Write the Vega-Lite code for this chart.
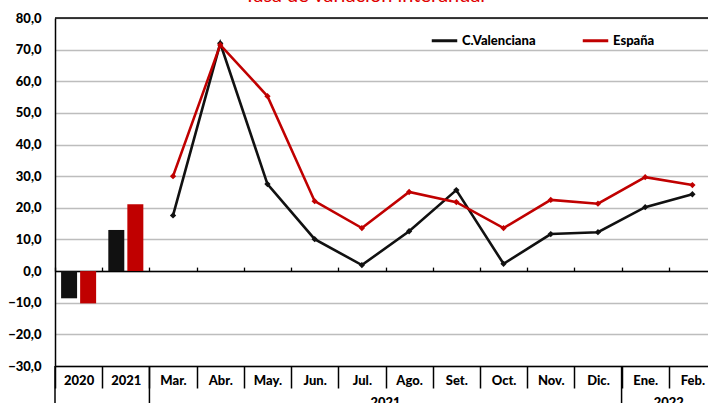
{
  "$schema": "https://vega.github.io/schema/vega-lite/v6.json",
  "width": 653,
  "height": 348,
  "autosize": {"type": "none"},
  "padding": {"left": 55, "top": 18, "right": 0, "bottom": 37},
  "background": "white",
  "view": {"stroke": null},
  "config": {
    "font": "Lato",
    "axisY": {
      "tickCount": 11,
      "labelExpr": "replace(format(datum.value, '.1f'), '.', ',')",
      "labelOverlap": false,
      "labelFont": "Lato", "labelFontWeight": 900, "labelFontSize": 13, "labelColor": "black",
      "labelPadding": 14, "ticks": false,
      "domainColor": "black", "domainWidth": 1.5,
      "grid": true, "gridColor": "#bdbdbd", "gridWidth": 1.3,
      "title": null
    }
  },
  "title": {
    "text": "Tasa de variación interanual",
    "color": "#e00000",
    "fontSize": 20,
    "fontWeight": "normal",
    "font": "Lato",
    "frame": "group",
    "anchor": "middle",
    "baseline": "alphabetic",
    "offset": 0,
    "dy": 10,
    "dx": -17
  },
  "datasets": {
    "series": [
      {"cat": "2020", "serie": "C.Valenciana", "valor": -8.6, "tipo": "anual"},
      {"cat": "2020", "serie": "España", "valor": -10.2, "tipo": "anual"},
      {"cat": "2021", "serie": "C.Valenciana", "valor": 13.0, "tipo": "anual"},
      {"cat": "2021", "serie": "España", "valor": 21.1, "tipo": "anual"},
      {"cat": "Mar.", "serie": "C.Valenciana", "valor": 17.6, "tipo": "mensual"},
      {"cat": "Abr.", "serie": "C.Valenciana", "valor": 72.0, "tipo": "mensual"},
      {"cat": "May.", "serie": "C.Valenciana", "valor": 27.5, "tipo": "mensual"},
      {"cat": "Jun.", "serie": "C.Valenciana", "valor": 10.1, "tipo": "mensual"},
      {"cat": "Jul.", "serie": "C.Valenciana", "valor": 1.9, "tipo": "mensual"},
      {"cat": "Ago.", "serie": "C.Valenciana", "valor": 12.6, "tipo": "mensual"},
      {"cat": "Set.", "serie": "C.Valenciana", "valor": 25.6, "tipo": "mensual"},
      {"cat": "Oct.", "serie": "C.Valenciana", "valor": 2.3, "tipo": "mensual"},
      {"cat": "Nov.", "serie": "C.Valenciana", "valor": 11.7, "tipo": "mensual"},
      {"cat": "Dic.", "serie": "C.Valenciana", "valor": 12.3, "tipo": "mensual"},
      {"cat": "Ene.", "serie": "C.Valenciana", "valor": 20.2, "tipo": "mensual"},
      {"cat": "Feb.", "serie": "C.Valenciana", "valor": 24.3, "tipo": "mensual"},
      {"cat": "Mar.", "serie": "España", "valor": 30.0, "tipo": "mensual"},
      {"cat": "Abr.", "serie": "España", "valor": 71.5, "tipo": "mensual"},
      {"cat": "May.", "serie": "España", "valor": 55.3, "tipo": "mensual"},
      {"cat": "Jun.", "serie": "España", "valor": 22.1, "tipo": "mensual"},
      {"cat": "Jul.", "serie": "España", "valor": 13.6, "tipo": "mensual"},
      {"cat": "Ago.", "serie": "España", "valor": 25.0, "tipo": "mensual"},
      {"cat": "Set.", "serie": "España", "valor": 21.8, "tipo": "mensual"},
      {"cat": "Oct.", "serie": "España", "valor": 13.6, "tipo": "mensual"},
      {"cat": "Nov.", "serie": "España", "valor": 22.5, "tipo": "mensual"},
      {"cat": "Dic.", "serie": "España", "valor": 21.3, "tipo": "mensual"},
      {"cat": "Ene.", "serie": "España", "valor": 29.7, "tipo": "mensual"},
      {"cat": "Feb.", "serie": "España", "valor": 27.2, "tipo": "mensual"}
    ],
    "grupos": [
      {"grupo": "2021", "cat": "Ago."},
      {"grupo": "2022", "cat": "Feb."}
    ],
    "separadores": [
      {"cat": "2020"},
      {"cat": "Mar."},
      {"cat": "Ene."}
    ]
  },
  "layer": [
    {
      "data": {"name": "series"},
      "transform": [{"filter": "datum.tipo === 'anual'"}],
      "mark": {"type": "bar"},
      "encoding": {
        "x": {
          "field": "cat", "type": "nominal", "sort": null,
          "scale": {"domain": ["2020","2021","Mar.","Abr.","May.","Jun.","Jul.","Ago.","Set.","Oct.","Nov.","Dic.","Ene.","Feb."], "range": [0, 661], "paddingInner": 0, "paddingOuter": 0},
          "axis": {
            "orient": "bottom", "title": null, "labelAngle": 0,
            "domainColor": "black", "domainWidth": 1.5,
            "ticks": true, "tickBand": "extent", "tickSize": 22, "tickColor": "black", "tickWidth": 1.5,
            "labelBaseline": "middle", "labelPadding": -8,
            "labelFont": "Lato", "labelFontWeight": 900, "labelFontSize": 13, "labelColor": "black",
            "grid": false
          }
        },
        "xOffset": {"field": "serie", "type": "nominal", "sort": ["C.Valenciana", "España"], "scale": {"paddingInner": 0.16, "paddingOuter": 0.32}},
        "y": {
          "field": "valor", "type": "quantitative",
          "scale": {"domain": [-30, 80], "nice": false, "zero": false}
        },
        "color": {
          "field": "serie", "type": "nominal",
          "scale": {"domain": ["C.Valenciana", "España"], "range": ["#111111", "#c00000"]},
          "legend": null
        }
      }
    },
    {
      "data": {"name": "series"},
      "transform": [{"filter": "datum.tipo === 'mensual'"}],
      "mark": {"type": "line", "strokeWidth": 2.6, "point": {"shape": "diamond", "size": 40, "filled": true}},
      "encoding": {
        "x": {
          "field": "cat", "type": "nominal", "sort": null,
          "axis": {
            "orient": "bottom", "offset": -94.9, "title": null, "labels": false,
            "domainColor": "black", "domainWidth": 1.5,
            "ticks": true, "tickBand": "extent", "tickSize": -4, "tickColor": "black", "tickWidth": 1.3,
            "grid": false
          }
        },
        "y": {"field": "valor", "type": "quantitative"},
        "color": {
          "field": "serie", "type": "nominal",
          "legend": {
            "title": null, "orient": "none", "legendX": 375, "legendY": 8, "direction": "horizontal",
            "symbolType": "stroke", "symbolStrokeWidth": 3, "symbolSize": 650,
            "labelFont": "Lato", "labelFontWeight": 900, "labelFontSize": 13, "labelColor": "black",
            "labelOffset": 3, "columnPadding": 40
          }
        }
      }
    },
    {
      "data": {"values": [{"borde": "superior"}]},
      "mark": {"type": "rule", "color": "black", "strokeWidth": 1.5},
      "encoding": {"y": {"datum": 80}}
    },
    {
      "data": {"name": "separadores"},
      "mark": {"type": "rule", "color": "black", "strokeWidth": 1.5},
      "encoding": {
        "x": {"field": "cat", "type": "nominal", "bandPosition": 0, "axis": null},
        "y": {"datum": -30},
        "y2": {"datum": -45}
      }
    },
    {
      "data": {"name": "grupos"},
      "mark": {"type": "text", "font": "Lato", "fontWeight": 900, "fontSize": 13, "color": "black", "baseline": "middle"},
      "encoding": {
        "x": {"field": "cat", "type": "nominal", "bandPosition": 0, "axis": null},
        "y": {"datum": -41.7},
        "text": {"field": "grupo"}
      }
    }
  ],
  "resolve": {"axis": {"x": "independent"}, "legend": {"color": "independent"}}
}
